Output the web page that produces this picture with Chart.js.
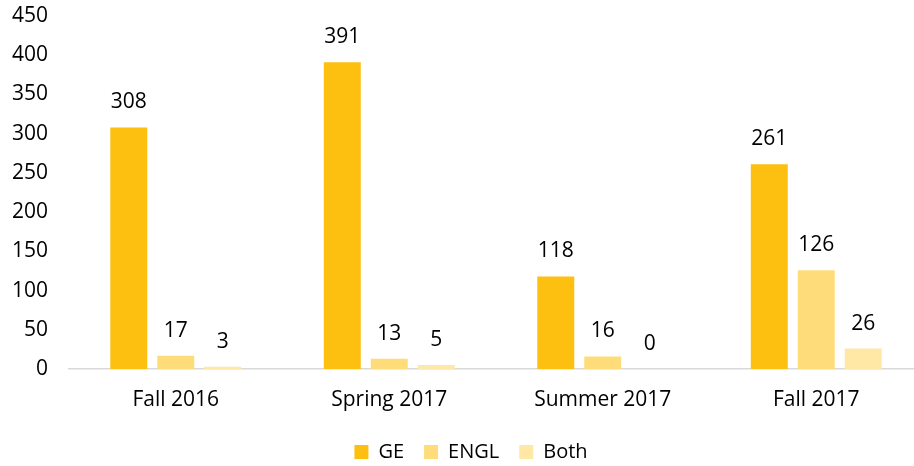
<!DOCTYPE html>
<html>
<head>
<meta charset="utf-8">
<script src="https://cdn.jsdelivr.net/npm/chart.js@4"></script>
<style>
html,body{margin:0;padding:0;background:#fff;overflow:hidden;}
#wrap{width:914px;height:466px;overflow:hidden;}
</style>
</head>
<body>
<div id="wrap"><canvas id="c" width="923" height="466"></canvas></div>
<script>
const categories = ["Fall 2016", "Spring 2017", "Summer 2017", "Fall 2017"];
const geValues = [308, 391, 118, 261];
const englValues = [17, 13, 16, 126];
const bothValues = [3, 5, 0, 26];
const seriesNames = ["GE", "ENGL", "Both"];
const yTicks = [0, 50, 100, 150, 200, 250, 300, 350, 400, 450];

const FONT = "'Open Sans', 'Noto Sans', sans-serif";
const FS = 21;

const labelPlugin = {
  id: 'barLabels',
  beforeLayout(chart) {
    const lg = chart.legend;
    if (lg && !lg._patched) {
      const orig = lg.fit.bind(lg);
      lg.fit = function () { orig(); this.height = 44; };
      lg._patched = true;
    }
  },
  afterLayout(chart) {
    const lg = chart.legend;
    if (lg) { lg.left += 19; }
  },
  afterDatasetsDraw(chart) {
    const ctx = chart.ctx;
    ctx.save();
    ctx.font = FS + "px " + FONT;
    ctx.fillStyle = "#000";
    ctx.textAlign = "center";
    ctx.textBaseline = "middle";
    chart.data.datasets.forEach((ds, i) => {
      const meta = chart.getDatasetMeta(i);
      meta.data.forEach((bar, j) => {
        ctx.fillText(String(ds.data[j]), bar.x, bar.y - 25);
      });
    });
    ctx.restore();
  }
};

new Chart(document.getElementById('c'), {
  type: 'bar',
  data: {
    labels: categories,
    datasets: [
      { label: seriesNames[0], data: geValues, backgroundColor: '#FDC010' },
      { label: seriesNames[1], data: englValues, backgroundColor: '#FFDC7A' },
      { label: seriesNames[2], data: bothValues, backgroundColor: '#FFE8A6' }
    ]
  },
  options: {
    responsive: false,
    animation: false,
    devicePixelRatio: 1,
    layout: { padding: { top: 16, right: 0, left: 0, bottom: 0 } },
    datasets: { bar: { categoryPercentage: 0.66, barPercentage: 0.787 } },
    plugins: {
      legend: {
        position: 'bottom',
        labels: {
          font: { family: FONT, size: 20 },
          color: '#000',
          boxWidth: 14,
          boxHeight: 14,
          padding: 20
        }
      },
      tooltip: { enabled: false }
    },
    scales: {
      x: {
        afterFit(axis) { axis.height = 53; },
        grid: { display: false, drawTicks: false },
        border: { display: true, color: '#d9d9d9', width: 1.5 },
        ticks: { font: { family: FONT, size: FS }, color: '#000', padding: 18 }
      },
      y: {
        min: 0, max: 450,
        afterBuildTicks(axis) { axis.ticks = yTicks.map(v => ({ value: v })); },
        afterFit(axis) { axis.width = 69; axis.paddingTop = 12; axis.paddingBottom = 12; },
        grid: { display: false, drawTicks: false },
        border: { display: false },
        ticks: { font: { family: FONT, size: FS }, color: '#000', padding: 21 }
      }
    }
  },
  plugins: [labelPlugin]
});
</script>
</body>
</html>
